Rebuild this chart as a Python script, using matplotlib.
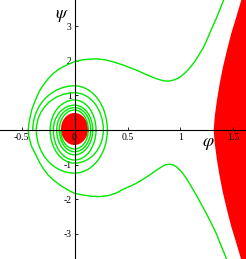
import matplotlib
matplotlib.use("Agg")
import matplotlib.pyplot as plt
from matplotlib.patches import Ellipse, Arc

plt.rcParams["mathtext.fontset"] = "stix"

# outer (scattering) trajectory: phi, psi
outer_phi = [1.435, 1.426, 1.38, 1.337, 1.29, 1.243, 1.196, 1.149, 1.10, 1.055, 1.01, 0.961, 0.93,
             0.897, 0.865, 0.835, 0.77, 0.709, 0.646, 0.583, 0.52, 0.458, 0.40, 0.32, 0.24, 0.16, 0.08,
             0.0, -0.05, -0.1, -0.15, -0.2, -0.25, -0.29, -0.325, -0.36, -0.385, -0.404, -0.42, -0.432,
             -0.436, -0.432, -0.42, -0.404, -0.38, -0.355, -0.325, -0.29, -0.25, -0.2, -0.14, -0.07,
             0.0, 0.07, 0.14, 0.209, 0.28, 0.36, 0.458, 0.52, 0.583, 0.646, 0.709, 0.77, 0.835, 0.865,
             0.898, 0.937, 0.976, 1.015, 1.055, 1.095, 1.134, 1.173, 1.212, 1.245, 1.275, 1.307, 1.338,
             1.37, 1.401, 1.41]
outer_psi = [-3.75, -3.672, -3.33, -2.994, -2.70, -2.415, -2.15, -1.884, -1.63, -1.400, -1.21, -1.064, -1.01,
             -0.994, -1.005, -1.043, -1.17, -1.304, -1.43, -1.545, -1.635, -1.718, -1.82, -1.90, -1.93, -1.92, -1.885,
             -1.835, -1.76, -1.67, -1.565, -1.449, -1.30, -1.14, -0.966, -0.75, -0.60, -0.483, -0.32, -0.16,
             0.0, 0.16, 0.35, 0.58, 0.78, 0.97, 1.16, 1.32, 1.48, 1.64, 1.78, 1.89,
             1.98, 2.03, 2.055, 2.06, 2.04, 1.98, 1.884, 1.81, 1.739, 1.65, 1.565, 1.49, 1.429, 1.418,
             1.420, 1.45, 1.499, 1.58, 1.690, 1.83, 1.980, 2.17, 2.368, 2.58, 2.803, 3.02, 3.238,
             3.48, 3.719, 3.78]

# inner spiral (clockwise): where it crosses the axes
spiral_left = [-0.394, -0.36, -0.23, -0.20, -0.168, -0.143, -0.13]
spiral_top = [1.28, 1.08, 0.87, 0.72, 0.65, 0.58]
spiral_right = [0.31, 0.272, 0.203, 0.172, 0.153, 0.13]
spiral_bottom = [-1.25, -0.96, -0.87, -0.72, -0.63, -0.55]

# right forbidden region, left boundary
wall_psi = [-3.77, -3.28, -2.80, -2.32, -1.83, -1.35, -0.87, -0.39, 0.0,
            0.39, 0.87, 1.35, 1.83, 2.32, 2.80, 3.28, 3.77]
wall_phi = [1.574, 1.527, 1.479, 1.439, 1.401, 1.370, 1.344, 1.323, 1.313,
            1.323, 1.344, 1.370, 1.401, 1.439, 1.479, 1.527, 1.574]

# central forbidden region
core_w, core_h = 0.255, 0.93

x_ticks = [-0.5, 0, 0.5, 1, 1.5]
x_labels = ["-0.5", "0", "0.5", "1", "1.5"]
y_ticks = [-3, -2, -1, 1, 2, 3]
y_labels = ["-3", "-2", "-1", "1", "2", "3"]

GREEN = "#00e800"
RED = "#ff0000"

fig = plt.figure(figsize=(2.46, 2.59), dpi=100)
ax = fig.add_axes([0, 0, 1, 1])
ax.set_xlim(-0.703, 1.618)
ax.set_ylim(-3.739, 3.768)

ax.fill_betweenx(wall_psi, wall_phi, 1.7, color=RED, lw=0, zorder=1)
ax.add_patch(Ellipse((0, 0.03), core_w, core_h, color=RED, lw=0, zorder=1))
ax.plot(outer_phi, outer_psi, color=GREEN, lw=1.0, zorder=2)

# each quarter turn of the spiral as an elliptic arc
for i in range(len(spiral_top)):
    quarters = [(spiral_left[i], spiral_top[i], 90, 180),
                (spiral_right[i], spiral_top[i], 0, 90)]
    if i < len(spiral_bottom):
        quarters.append((spiral_right[i], spiral_bottom[i], 270, 360))
        quarters.append((spiral_left[i + 1], spiral_bottom[i], 180, 270))
    for a, b, t1, t2 in quarters:
        ax.add_patch(Arc((0, 0), 2 * abs(a), 2 * abs(b), theta1=t1, theta2=t2,
                         color=GREEN, lw=1.0, zorder=2))

for s in ["top", "right"]:
    ax.spines[s].set_visible(False)
for s in ["left", "bottom"]:
    ax.spines[s].set_position(("data", 0))
    ax.spines[s].set_linewidth(0.8)
    ax.spines[s].set_zorder(3)

ax.set_xticks(x_ticks)
ax.set_xticklabels(x_labels, family="Liberation Serif", fontsize=7)
ax.set_yticks(y_ticks)
ax.set_yticklabels(y_labels, family="Liberation Serif", fontsize=7)
ax.tick_params(direction="in", length=2, width=0.6, pad=2)

ax.text(-0.115, 3.33, r"$\psi$", fontsize=13, ha="center", va="center")
ax.text(1.26, -0.38, r"$\varphi$", fontsize=13, ha="center", va="center")

fig.savefig("out.png", dpi=100)
